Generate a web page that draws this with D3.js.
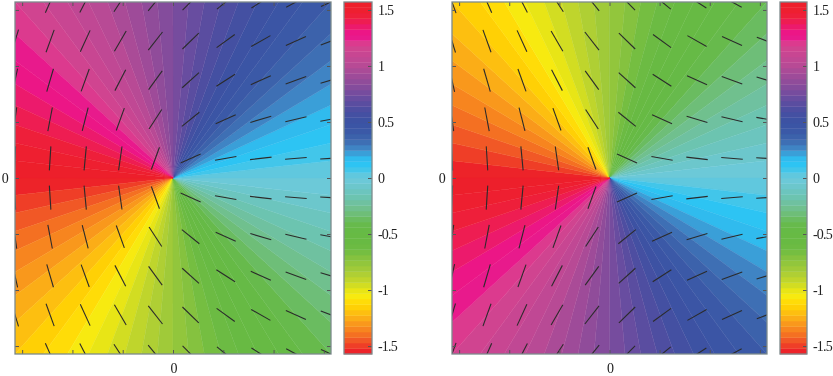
<!DOCTYPE html>
<html>
<head>
<meta charset="utf-8">
<script src="https://cdn.jsdelivr.net/npm/d3@7"></script>
<style>
    html, body { margin: 0; padding: 0; background: #fff; }
    svg { display: block; filter: blur(0.4px); }
    text { font-family: "Liberation Serif", serif; font-size: 14px; letter-spacing: -0.8px; fill: #222; }
</style>
</head>
<body>
<script>
//colormap bands, top (+pi/2) to bottom (-pi/2)
var bandColors = [
    "#ed1f2b", "#ee1f30", "#ee1f3a", "#ee1d52", "#ec1a6c", "#ec1686", "#e81a8c", "#dc3a8e",
    "#d04490", "#c84692", "#c04894", "#b84a95", "#aa4b97", "#9e4b99", "#904c9a", "#844c9c",
    "#764c9e", "#684da0", "#5a4da0", "#4e4ea1", "#4450a2", "#3d52a3", "#3b55a5", "#3b59a7",
    "#3c62ab", "#3e6fb4", "#3f84c4", "#3a9fd8", "#30bbee", "#2dc4f3", "#42c6ea", "#60c8de",
    "#6cc9d8", "#6cc7cc", "#6cc5be", "#6cc4b0", "#6fc1a0", "#70c08e", "#6ebe78", "#6abc60",
    "#67ba4c", "#66ba46", "#67ba44", "#68ba43", "#6cbb43", "#75be41", "#85c23f", "#92c63c",
    "#a0ca39", "#afcf34", "#bfd52c", "#d2dd22", "#e8e516", "#f7ea10", "#ffdc08", "#ffd005",
    "#fdbf10", "#fbad17", "#f9981c", "#f7851f", "#f47022", "#f15826", "#ef3e27", "#ed2329"
];

//value range of both axes and the colorbar
var valueMin = -1.571,
    valueMax = 1.571;

var axisTicks = [-1.5, -1, -0.5, 0, 0.5, 1, 1.5];

//director grid positions, same for x and y
var gridValues = [-1.571, -1.222, -0.873, -0.524, -0.175, 0.175, 0.524, 0.873, 1.222, 1.571];

//director angle in degrees for each grid point, rows top to bottom, columns left to right
var leftAngles = [
    [68, 64, 60, 54, 48, 42, 36, 30, 26, 22],
    [71, 68, 63, 57, 49, 41, 33, 27, 22, 19],
    [76, 72, 68, 60, 51, 39, 30, 22, 18, 15],
    [81, 78, 74, 68, 54, 36, 22, 15, 12, 9],
    [87, 86, 84, 81, 68, 22, 9, 6, 4, 3],
    [-87, -86, -84, -81, -68, -22, -9, -6, -4, -3],
    [-81, -78, -74, -68, -54, -36, -22, -15, -12, -9],
    [-76, -72, -68, -60, -51, -39, -30, -22, -18, -15],
    [-71, -68, -63, -57, -49, -41, -33, -27, -22, -19],
    [-68, -64, -60, -54, -48, -42, -36, -30, -26, -22]
];

var rightAngles = [
    [-68, -64, -60, -54, -48, -42, -36, -30, -26, -22],
    [-71, -68, -63, -57, -49, -41, -33, -27, -22, -19],
    [-76, -72, -68, -60, -51, -39, -30, -22, -18, -15],
    [-81, -78, -74, -68, -54, -36, -22, -15, -12, -9],
    [-87, -86, -84, -81, -68, -22, -9, -6, -4, -3],
    [87, 86, 84, 81, 68, 22, 9, 6, 4, 3],
    [81, 78, 74, 68, 54, 36, 22, 15, 12, 9],
    [76, 72, 68, 60, 51, 39, 30, 22, 18, 15],
    [71, 68, 63, 57, 49, 41, 33, 27, 22, 19],
    [68, 64, 60, 54, 48, 42, 36, 30, 26, 22]
];

window.onload = setCharts();

function setCharts(){
    var svg = d3.select("body")
        .append("svg")
        .attr("width", 833)
        .attr("height", 376);

    //colour lookup shared by the wedges and colorbar
    var color = d3.scaleQuantize()
        .domain([valueMin, valueMax])
        .range(bandColors.slice().reverse());

    //+1/2 defect on the left, -1/2 on the right
    drawPanel(svg, color, "left", 15, 331, 344, 372, 0.5, leftAngles);
    drawPanel(svg, color, "right", 452, 767, 780, 807, -0.5, rightAngles);
}

function drawPanel(svg, color, id, x0, x1, barX0, barX1, charge, angles){
    var top = 2,
        bottom = 354,
        lineLength = 0.215;

    var x = d3.scaleLinear().domain([valueMin, valueMax]).range([x0, x1]);
    var y = d3.scaleLinear().domain([valueMin, valueMax]).range([bottom, top]);

    svg.append("clipPath")
        .attr("id", "clip-" + id)
        .append("rect")
        .attr("x", x0)
        .attr("y", top)
        .attr("width", x1 - x0)
        .attr("height", bottom - top);

    var plot = svg.append("g").attr("clip-path", "url(#clip-" + id + ")");

    //one wedge per colour band, running out from the defect
    var wedge = d3.line().x(function(d){ return x(d[0]); }).y(function(d){ return y(d[1]); });

    plot.selectAll(".wedge")
        .data(color.range())
        .enter()
        .append("path")
        .attr("class", "wedge")
        .attr("fill", function(d){ return d; })
        .attr("stroke", function(d){ return d; })
        .attr("stroke-width", 0.4)
        .attr("d", function(d){
            var ext = color.invertExtent(d),
                a = ext[0] / charge,
                b = ext[1] / charge,
                r = 5;
            return wedge([[0, 0], [r * Math.cos(a), r * Math.sin(a)], [r * Math.cos(b), r * Math.sin(b)]]) + "Z";
        });

    //director lines
    var cells = [];
    angles.forEach(function(row, i){
        row.forEach(function(deg, j){
            cells.push({ gx: gridValues[j], gy: gridValues[gridValues.length - 1 - i], rad: deg * Math.PI / 180 });
        });
    });

    plot.selectAll(".director")
        .data(cells)
        .enter()
        .append("line")
        .attr("class", "director")
        .attr("x1", function(d){ return x(d.gx - lineLength / 2 * Math.cos(d.rad)); })
        .attr("x2", function(d){ return x(d.gx + lineLength / 2 * Math.cos(d.rad)); })
        .attr("y1", function(d){ return y(d.gy - lineLength / 2 * Math.sin(d.rad)); })
        .attr("y2", function(d){ return y(d.gy + lineLength / 2 * Math.sin(d.rad)); })
        .attr("stroke", "#2b2b2b")
        .attr("stroke-width", 1.1);

    //only the zero tick gets a label
    function zeroOnly(d){ return d === 0 ? "0" : ""; }

    addAxis(svg, d3.axisBottom(x), 0, bottom, zeroOnly, 9);
    addAxis(svg, d3.axisTop(x), 0, top, function(){ return ""; }, 0);
    addAxis(svg, d3.axisLeft(y), x0, 0, zeroOnly, 7);
    addAxis(svg, d3.axisRight(y), x1, 0, function(){ return ""; }, 0);

    //colorbar
    var barY = d3.scaleLinear().domain([valueMin, valueMax]).range([bottom, top]);

    svg.append("g").selectAll("rect")
        .data(color.range())
        .enter()
        .append("rect")
        .attr("x", barX0)
        .attr("width", barX1 - barX0)
        .attr("y", function(d){ return barY(color.invertExtent(d)[1]); })
        .attr("height", function(d){
            var ext = color.invertExtent(d);
            return barY(ext[0]) - barY(ext[1]) + 0.3;
        })
        .attr("fill", function(d){ return d; });

    addAxis(svg, d3.axisRight(barY), barX1, 0, function(d){ return String(d); }, 6);

    svg.append("rect")
        .attr("x", barX0)
        .attr("y", top)
        .attr("width", barX1 - barX0)
        .attr("height", bottom - top)
        .attr("fill", "none")
        .attr("stroke", "#7d8a8c")
        .attr("stroke-width", 1.3);

    //plot frame
    svg.append("rect")
        .attr("x", x0)
        .attr("y", top)
        .attr("width", x1 - x0)
        .attr("height", bottom - top)
        .attr("fill", "none")
        .attr("stroke", "#7d8a8c")
        .attr("stroke-width", 1.3);
}

function addAxis(svg, axis, tx, ty, format, padding){
    var g = svg.append("g")
        .attr("transform", "translate(" + tx + "," + ty + ")")
        .call(axis.tickValues(axisTicks).tickFormat(format).tickSizeInner(-4).tickSizeOuter(0).tickPadding(padding));

    g.select(".domain").remove();
    g.selectAll(".tick line").attr("stroke", "#555").attr("stroke-width", 1);
    g.selectAll(".tick text").attr("fill", "#222");
}
</script>
</body>
</html>
